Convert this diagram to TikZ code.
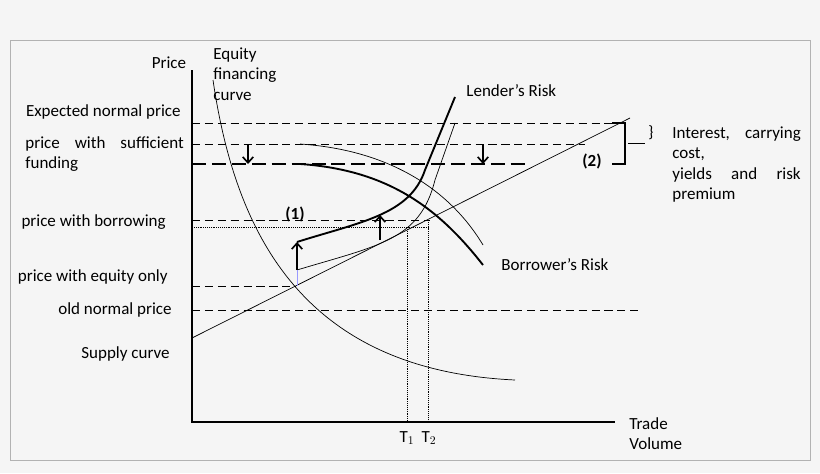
\documentclass[tikz,border=0pt]{standalone}
\usepackage{fontspec}
\setmainfont{Carlito}
\usetikzlibrary{arrows.meta}
\tikzset{
  lbl/.style={font=\fontsize{14.5}{17.5}\selectfont, inner sep=1pt},
  guide/.style={dashed, dash pattern=on 7pt off 4pt, line width=0.5pt},
  thickguide/.style={dash pattern=on 12pt off 5pt, line width=1.6pt},
  dotguide/.style={densely dotted, line width=0.6pt},
  risk/.style={line width=1.6pt},
  thinrisk/.style={line width=0.6pt},
  up/.style={line width=1.4pt, -{Straight Barb[length=5pt,width=9pt]}}
}
\begin{document}
\begin{tikzpicture}[x=0.03cm, y=-0.03cm]
  \fill[gray!8] (0,0) rectangle (820,473);
  \useasboundingbox (0,0) rectangle (820,473);
  \draw[gray!60] (10,40) rectangle (810,460);

  % axes
  \coordinate (o) at (192,422);
  \draw[line width=1pt] (192,70) -- (o) -- (615,422);
  \node[lbl] (price) at (169,63) {Price};
  \node[lbl, anchor=north west, align=left] (eq) at (212,46) {Equity\\financing\\curve};
  \node[lbl, anchor=north west, align=left] (trade) at (628,416) {Trade\\Volume};

  % guide lines
  \draw[guide] (192,123) -- (618,123);
  \draw[guide] (192,144) -- (585,144);
  \draw[thickguide] (192,164) -- (528,164);
  \draw[guide] (192,220) -- (430,220);
  \draw[dotguide] (192,227) -- (430,227);
  \draw[dotguide] (407,227) -- (407,422);
  \draw[dotguide] (428,220) -- (428,422);
  \draw[guide] (192,286) -- (296,286);
  \draw[guide] (192,310) -- (640,310);

  % supply and equity curves
  \draw[line width=0.6pt] (192,338) -- (630,118);
  \draw[line width=0.6pt] (213,80) .. controls (235,230) and (300,370) .. (515,380);

  % lender's risk
  \draw[risk] (297,242) .. controls (360,222) and (410,215) .. (425,170) -- (455,97);
  \draw[thinrisk] (297,270) .. controls (380,245) and (420,240) .. (435,180) -- (455,123);
  \draw[up] (297,270) -- (297,242);
  \draw[blue!40, line width=0.7pt] (297,270) -- (297,286);
  \draw[up] (380,240) -- (380,215);

  % borrower's risk
  \draw[risk] (300,164) .. controls (390,170) and (440,210) .. (483,265);
  \draw[thinrisk] (300,144) .. controls (390,150) and (450,190) .. (483,245);
  \draw[up] (248,144) -- (248,164);
  \draw[up] (483,144) -- (483,164);

  % bracket
  \draw[line width=1.2pt] (612,123) -- (625,123) -- (625,164) -- (612,164);
  \draw[line width=0.5pt] (628,143) -- (645,143);
  \node[font=\fontsize{14}{14}\selectfont, inner sep=0pt] (brace) at (651,133) {\}};

  % labels
  \node[lbl, font=\bfseries\fontsize{14.5}{17.5}\selectfont] (one) at (295,214) {(1)};
  \node[lbl, font=\bfseries\fontsize{14.5}{17.5}\selectfont] (two) at (592,161) {(2)};
  \node[lbl, anchor=west] (lender) at (465,91) {Lender's Risk};
  \node[lbl, anchor=west] (borrower) at (500,265) {Borrower's Risk};
  \node[lbl, anchor=north west, text width=3.85cm, align=left] (interest) at (671,125)
    {Interest,\hfill carrying\\cost,\\yields\hfill and\hfill risk\\premium};
  \node[lbl] (t1) at (407,438) {T$_1$};
  \node[lbl] (t2) at (429,438) {T$_2$};

  \node[lbl, anchor=east] (exp) at (182,112) {Expected normal price};
  \node[lbl, anchor=north west, text width=4.75cm, align=left] (suff) at (24,135) {price\hfill with\hfill sufficient\\funding};
  \node[lbl, anchor=east] (borr) at (167,222) {price with borrowing};
  \node[lbl, anchor=east] (eqonly) at (169,277) {price with equity only};
  \node[lbl, anchor=east] (old) at (173,310) {old normal price};
  \node[lbl, anchor=east] (supply) at (171,354) {Supply curve};
\end{tikzpicture}
\end{document}
